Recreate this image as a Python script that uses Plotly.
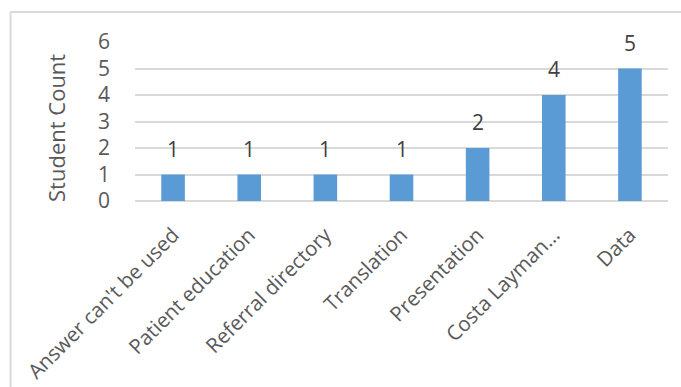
import plotly.graph_objects as go

categories = [
    "Answer can't be used",
    "Patient education",
    "Referral directory",
    "Translation",
    "Presentation",
    "Costa Layman…",
    "Data",
]
student_counts = [1, 1, 1, 1, 2, 4, 5]
y_ticks = [0, 1, 2, 3, 4, 5, 6]

BAR_BLUE = "#5B9BD5"
GRID_GREY = "#D9D9D9"
TEXT_GREY = "#595959"
LABEL_DARK = "#404040"
FONT = "Open Sans"

fig = go.Figure(
    go.Bar(
        x=categories,
        y=student_counts,
        marker=dict(color=BAR_BLUE, line=dict(width=0)),
        hoverinfo="x+y",
    )
)

# value labels above each bar
for cat, val in zip(categories, student_counts):
    fig.add_annotation(
        x=cat, y=val, text=str(val), showarrow=False,
        yanchor="bottom", yshift=10,
        font=dict(family=FONT, size=21, color=LABEL_DARK),
    )

# y-axis title
fig.add_annotation(
    xref="paper", yref="paper", x=-0.148, y=0.46,
    text="Student Count", textangle=-90, showarrow=False,
    xanchor="center", yanchor="middle",
    font=dict(family=FONT, size=22, color=TEXT_GREY),
)

# chart frame (light grey border around the chart area)
fig.add_shape(type="line", xref="paper", yref="paper",
              x0=-0.2336, x1=-0.2336, y0=1.1887, y1=-1.3,
              line=dict(color=GRID_GREY, width=2))
fig.add_shape(type="line", xref="paper", yref="paper",
              x0=-0.2336, x1=1.2, y0=1.1887, y1=1.1887,
              line=dict(color=GRID_GREY, width=2))

fig.update_layout(
    width=681, height=387,
    margin=dict(l=135, r=13, t=42, b=186, autoexpand=False),
    paper_bgcolor="white", plot_bgcolor="white",
    bargap=0.69,
    showlegend=False,
    font=dict(family=FONT, color=TEXT_GREY),
    xaxis=dict(
        tickangle=-45, automargin=False,
        tickfont=dict(family=FONT, size=20.5, color=TEXT_GREY),
        showgrid=False, showline=False, zeroline=False,
        ticks="", ticklabelstandoff=17,
    ),
    yaxis=dict(
        range=[0, 6], tickvals=y_ticks, automargin=False,
        tickfont=dict(family=FONT, size=21, color=TEXT_GREY),
        showgrid=True, gridcolor=GRID_GREY, gridwidth=1.5,
        zeroline=True, zerolinecolor=GRID_GREY, zerolinewidth=1.5,
        showline=False, ticks="", ticklabelstandoff=24,
    ),
)

fig.write_html("out.html")
